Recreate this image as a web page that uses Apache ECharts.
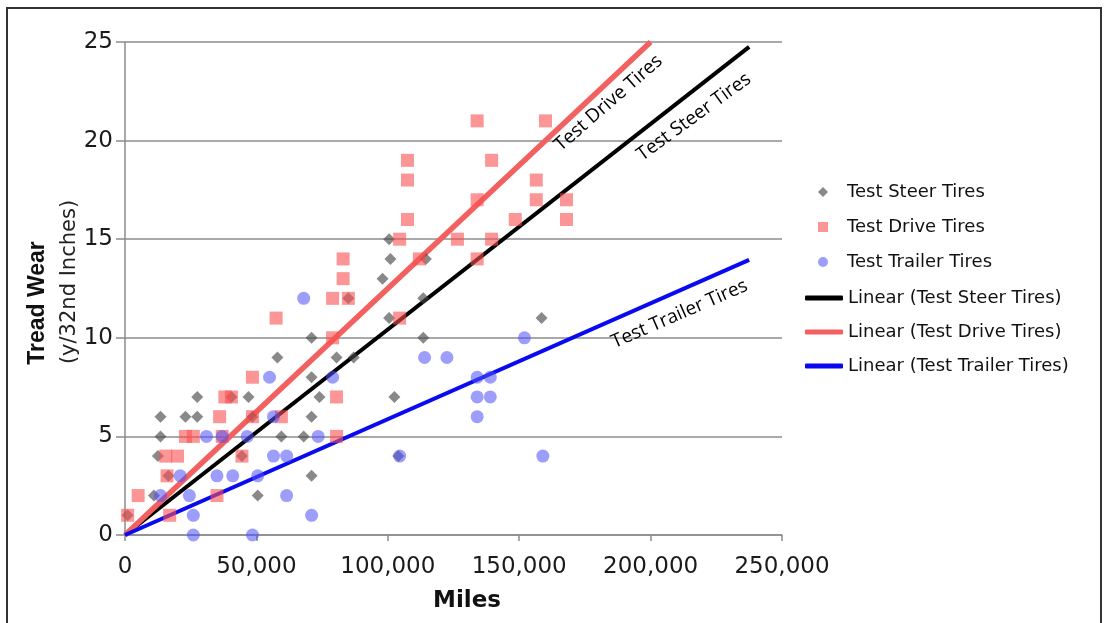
<!DOCTYPE html>
<html><head><meta charset="utf-8">
<script src="https://cdn.jsdelivr.net/npm/echarts@6/dist/echarts.min.js"></script>
<style>html,body{margin:0;padding:0;background:#fff}#c{width:1108px;height:623px}</style>
</head><body><div id="c"></div>
<script>
// ---- data (miles, tread wear in 32nds) ----
var steerMiles = [1000,11000,12500,13500,13500,16500,23000,27500,27500,40500,44500,47000,48500,50500,58000,59500,68000,71000,71000,71000,71000,74000,80500,85000,87000,98000,100500,101000,100500,102500,104000,113500,114500,113500,158500];
var steerWear  = [1,2,4,5,6,3,6,6,7,7,4,7,6,2,9,5,5,10,8,6,3,7,9,12,9,13,15,14,11,7,4,12,14,10,11];
var driveMiles = [1000,5000,17000,16000,15500,20000,23000,26000,35000,37000,36000,38000,40500,44500,48500,48500,59500,57500,80500,80500,79000,79000,83000,83000,85000,104500,104500,107500,107500,107500,112000,126500,134000,134000,134000,139500,139500,148500,156500,156500,160000,168000,168000];
var driveWear  = [1,2,1,3,4,4,5,5,2,5,6,7,7,4,8,6,6,11,7,5,10,12,13,14,12,11,15,16,18,19,14,15,14,17,21,19,15,16,18,17,21,17,16];
var trailerMiles = [13500,21000,24500,26000,26000,31000,35000,37000,41000,46500,48500,50500,55000,56500,56500,61500,61500,68000,71000,73500,79000,104500,114000,122500,134000,139000,134000,139000,134000,152000,159000];
var trailerWear  = [2,3,2,1,0,5,3,5,3,5,0,3,8,6,4,4,2,12,1,5,8,4,9,9,8,8,7,7,6,10,4];
// trend line end points (start at origin)
var steerTrend   = [[0,0],[237500,24.75]];
var driveTrend   = [[0,0],[200000,25]];
var trailerTrend = [[0,0],[237500,13.95]];
var xTicks = [0,50000,100000,150000,200000,250000];
var yTicks = [0,5,10,15,20,25];
var seriesNames = ['Test Steer Tires','Test Drive Tires','Test Trailer Tires'];
var lineNames = ['Linear (Test Steer Tires)','Linear (Test Drive Tires)','Linear (Test Trailer Tires)'];
// line annotations [text, miles, wear, angleDeg]
var lineLabels = [['Test Drive Tires',184000,21.9,41],['Test Steer Tires',216500,21.2,36],['Test Trailer Tires',211000,11.2,23.5]];

function zip(a,b){return a.map(function(v,i){return [v,b[i]];});}
function fmt(v){return v.toString().replace(/\B(?=(\d{3})+(?!\d))/g, ',');}

var chart = echarts.init(document.getElementById('c'), null, {renderer:'canvas'});
var tickFont = {fontFamily:'DejaVu Sans', fontSize:23, color:'#1a1a1a'};
var legendText = {fontFamily:'DejaVu Sans', fontSize:18, color:'#111', lineHeight:20};
var option = {
  animation:false,
  backgroundColor:'#fff',
  grid:{left:125, right:326, top:42, bottom:88, containLabel:false},
  xAxis:{type:'value', min:xTicks[0], max:xTicks[xTicks.length-1], interval:50000,
    axisLine:{lineStyle:{color:'#8c8c8c', width:1.5}},
    axisTick:{show:true, length:6, inside:false, lineStyle:{color:'#8c8c8c', width:1.5}},
    axisLabel:Object.assign({margin:21, formatter:fmt}, tickFont),
    splitLine:{show:false}},
  yAxis:{type:'value', min:yTicks[0], max:yTicks[yTicks.length-1], interval:5,
    axisLine:{show:true, lineStyle:{color:'#8c8c8c', width:1.5}},
    axisTick:{show:true, length:9, lineStyle:{color:'#8c8c8c', width:1.5}},
    axisLabel:Object.assign({margin:12}, tickFont),
    splitLine:{show:true, lineStyle:{color:'#8c8c8c', width:1.5}}},
  legend:[
    {orient:'vertical', left:813, top:177, itemWidth:10, itemHeight:10, itemGap:15,
      textStyle:Object.assign({padding:[0,0,0,14]}, legendText),
      data:[{name:seriesNames[0], icon:'diamond'},{name:seriesNames[1], icon:'rect'},{name:seriesNames[2], icon:'circle'}]},
    {orient:'vertical', left:800, top:283, itemWidth:38, itemHeight:5, itemGap:14,
      textStyle:legendText,
      data:[{name:lineNames[0], icon:'roundRect'},{name:lineNames[1], icon:'roundRect'},{name:lineNames[2], icon:'roundRect'}]}
  ],
  series:[
    {name:lineNames[0], type:'line', data:steerTrend, symbol:'none', z:3,
      lineStyle:{color:'#000', width:4}, itemStyle:{color:'#000'}},
    {name:lineNames[1], type:'line', data:driveTrend, symbol:'none', z:3,
      lineStyle:{color:'#f26060', width:5.5}, itemStyle:{color:'#f26060'}},
    {name:lineNames[2], type:'line', data:trailerTrend, symbol:'none', z:3,
      lineStyle:{color:'#0a0af0', width:4}, itemStyle:{color:'#0a0af0'}},
    {name:seriesNames[0], type:'scatter', data:zip(steerMiles,steerWear), symbol:'diamond', symbolSize:12, z:4,
      itemStyle:{color:'rgba(70,70,70,0.8)'}},
    {name:seriesNames[1], type:'scatter', data:zip(driveMiles,driveWear), symbol:'rect', symbolSize:13, z:4,
      itemStyle:{color:'rgba(250,80,80,0.75)'}},
    {name:seriesNames[2], type:'scatter', data:zip(trailerMiles,trailerWear), symbol:'circle', symbolSize:13, z:4,
      itemStyle:{color:'rgba(80,80,250,0.7)'}}
  ]
};
chart.setOption(option);

var g = [
  {type:'rect', shape:{x:7,y:8,width:1094,height:640}, style:{fill:'none', stroke:'#333', lineWidth:2}, silent:true, z:0},
  {type:'text', x:38, y:303, rotation:Math.PI/2, style:{text:'Tread Wear', font:'bold 23px "Liberation Sans"', fill:'#111', textAlign:'center', textVerticalAlign:'middle'}},
  {type:'text', x:70, y:282, rotation:Math.PI/2, style:{text:'(y/32nd Inches)', font:'21px "DejaVu Sans"', fill:'#222', textAlign:'center', textVerticalAlign:'middle'}},
  {type:'text', x:467, y:601, style:{text:'Miles', font:'bold 23px "DejaVu Sans"', fill:'#111', textAlign:'center', textVerticalAlign:'middle'}}
];
lineLabels.forEach(function(l){
  var p = chart.convertToPixel({gridIndex:0}, [l[1], l[2]]);
  g.push({type:'text', x:p[0], y:p[1], rotation:l[3]*Math.PI/180, z:10,
    style:{text:l[0], font:'19px "Open Sans"', fill:'#000', textAlign:'center', textVerticalAlign:'middle'}});
});
chart.setOption({graphic:g});
</script></body></html>
